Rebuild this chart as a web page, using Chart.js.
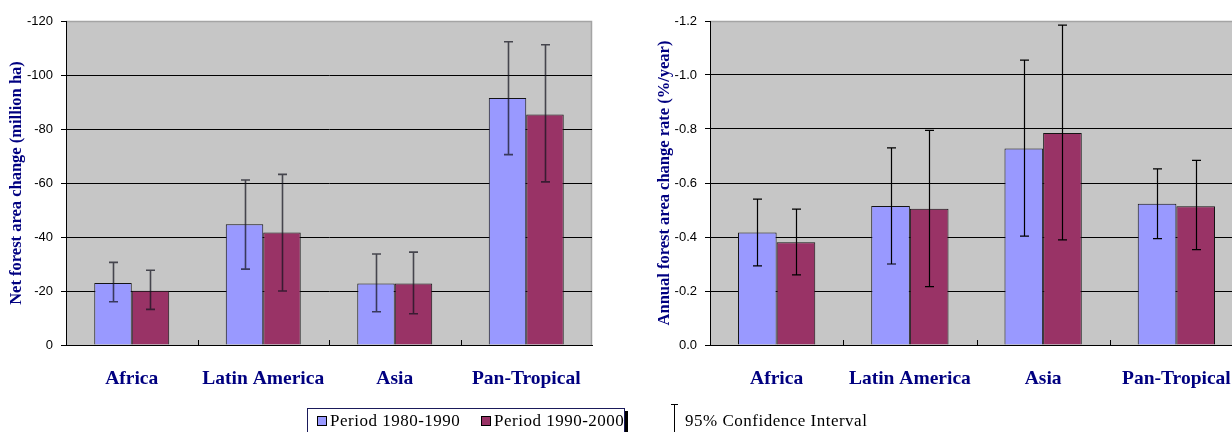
<!DOCTYPE html>
<html>
<head>
<meta charset="utf-8">
<script src="https://cdn.jsdelivr.net/npm/chart.js@4"></script>
<style>
  html, body { margin: 0; padding: 0; background: #fff; }
  #wrap { position: relative; width: 1232px; height: 432px; overflow: hidden; }
  #netChart { position: absolute; left: 0; top: 0; }
  #rateChart { position: absolute; left: 600px; top: 0; }
  .legend-box { position: absolute; left: 307px; top: 408px; width: 316px; height: 40px;
                border: 1px solid #1a1a5a; box-shadow: 3px 3px 0 #000; background: #fff; }
  .swatch { position: absolute; width: 8px; height: 8px; border: 1px solid #000; }
  .ltext { position: absolute; font: 17px "Liberation Serif", serif; color: #000;
           white-space: nowrap; line-height: 20px; letter-spacing: 0.5px; }
  .ci-stem { position: absolute; background: #000; }
</style>
</head>
<body>
<div id="wrap">
  <canvas id="netChart" width="600" height="432"></canvas>
  <canvas id="rateChart" width="652" height="432"></canvas>
  <div class="legend-box"></div>
  <div id="sw1" class="swatch" style="left:317px; top:416px;"></div>
  <div id="lt1" class="ltext" style="left:330px; top:411px;"></div>
  <div id="sw2" class="swatch" style="left:481px; top:416px;"></div>
  <div id="lt2" class="ltext" style="left:494px; top:411px;"></div>
  <div class="ci-stem" style="left:674px; top:404px; width:1px; height:40px;"></div>
  <div class="ci-stem" style="left:671px; top:404px; width:7px; height:1px;"></div>
  <div id="lt3" class="ltext" style="left:685px; top:411px;"></div>
</div>
<script>
// Regions and periods
const regions = ['Africa', 'Latin America', 'Asia', 'Pan-Tropical'];
const periodLabels = ['Period 1980-1990', 'Period 1990-2000'];
const ciLabel = '95% Confidence Interval';

// Net forest area change (million ha)
const netChange1980s = [-23, -44.7, -22.8, -91.5];
const netChange1990s = [-20.1, -41.7, -22.8, -85.4];
const netCiLow1980s  = [-16.0, -28.1, -12.3, -70.5];
const netCiHigh1980s = [-30.6, -61.1, -33.7, -112.3];
const netCiLow1990s  = [-13.2, -20.0, -11.6, -60.4];
const netCiHigh1990s = [-27.7, -63.2, -34.4, -111.2];

// Annual forest area change rate (%/year)
const rate1980s = [-0.417, -0.515, -0.728, -0.523];
const rate1990s = [-0.381, -0.505, -0.785, -0.514];
const rateCiLow1980s  = [-0.293, -0.300, -0.403, -0.394];
const rateCiHigh1980s = [-0.540, -0.730, -1.055, -0.652];
const rateCiLow1990s  = [-0.260, -0.216, -0.389, -0.353];
const rateCiHigh1990s = [-0.503, -0.795, -1.185, -0.684];

// Value-axis ranges and tick steps
const netAxis = { min: -120, max: 0, step: 20, title: 'Net forest area change (million ha)' };
const rateAxis = { min: -1.2, max: 0, step: 0.2, title: 'Annual forest area change rate (%/year)' };

const colorEarly = '#9999FF';
const colorLate = '#993366';

// Plot background, frame, confidence-interval whiskers and category separators
const plotDecor = {
  id: 'plotDecor',
  beforeDraw(chart) {
    const { ctx, chartArea: a } = chart;
    ctx.save();
    ctx.fillStyle = '#C6C6C6';
    ctx.fillRect(a.left, a.top, a.right - a.left, a.bottom - a.top);
    ctx.strokeStyle = '#a4a4a4';
    ctx.lineWidth = 1.5;
    ctx.beginPath();
    ctx.moveTo(a.left, a.top + 0.5);
    ctx.lineTo(a.right - 0.5, a.top + 0.5);
    ctx.lineTo(a.right - 0.5, a.bottom);
    ctx.stroke();
    ctx.restore();
  },
  afterDatasetsDraw(chart, args, opts) {
    const { ctx } = chart;
    const yScale = chart.scales.y;
    ctx.save();
    ctx.strokeStyle = opts.color;
    ctx.lineWidth = opts.width;
    chart.data.datasets.forEach((ds, i) => {
      const meta = chart.getDatasetMeta(i);
      meta.data.forEach((bar, j) => {
        const x = Math.round(bar.x) + 0.5;
        const yLo = yScale.getPixelForValue(ds.ciLow[j]);
        const yHi = yScale.getPixelForValue(ds.ciHigh[j]);
        const cap = 4.5;
        ctx.beginPath();
        ctx.moveTo(x, yLo); ctx.lineTo(x, yHi);
        ctx.moveTo(x - cap, yLo); ctx.lineTo(x + cap, yLo);
        ctx.moveTo(x - cap, yHi); ctx.lineTo(x + cap, yHi);
        ctx.stroke();
      });
    });
    ctx.restore();
  },
  afterDraw(chart) {
    const { ctx, chartArea: a } = chart;
    const xScale = chart.scales.x;
    ctx.save();
    ctx.strokeStyle = '#000';
    ctx.lineWidth = 1;
    for (let i = 1; i < regions.length; i++) {
      const x = Math.round((xScale.getPixelForTick(i - 1) + xScale.getPixelForTick(i)) / 2) + 0.5;
      ctx.beginPath();
      ctx.moveTo(x, a.bottom);
      ctx.lineTo(x, a.bottom - 5);
      ctx.stroke();
    }
    ctx.restore();
  }
};

function makeChart(canvasId, series, axis, cfg) {
  const fmt = v => {
    if (Math.abs(v) < 1e-9) return cfg.decimals ? (0).toFixed(cfg.decimals) : '0';
    return cfg.decimals ? v.toFixed(cfg.decimals) : String(Math.round(v));
  };
  return new Chart(document.getElementById(canvasId), {
    type: 'bar',
    data: {
      labels: regions,
      datasets: series.map(s => ({
        label: s.label,
        data: s.data,
        ciLow: s.lo,
        ciHigh: s.hi,
        backgroundColor: s.color,
        borderColor: '#141414',
        borderWidth: 1,
        categoryPercentage: cfg.catPct,
        barPercentage: 1
      }))
    },
    options: {
      responsive: false,
      animation: false,
      layout: { padding: cfg.padding },
      plugins: {
        legend: { display: false },
        tooltip: { enabled: false },
        plotDecor: { color: cfg.ciColor, width: cfg.ciWidth }
      },
      scales: {
        x: {
          grid: { display: false },
          border: { display: true, color: '#000', width: 1 },
          ticks: {
            color: '#000080',
            font: { family: 'Liberation Serif', size: 19.5, weight: 'bold' },
            padding: 14, maxRotation: 0, autoSkip: false
          },
          afterFit: s => { s.height = 87; }
        },
        y: {
          reverse: true,
          min: axis.min,
          max: axis.max,
          ticks: {
            stepSize: axis.step,
            color: '#000',
            font: { family: 'Liberation Sans', size: 13 },
            padding: 8,
            callback: v => fmt(v)
          },
          grid: {
            color: c => (c.tick && Math.abs(c.tick.value - axis.min) < 1e-9) ? '#a4a4a4' : '#000',
            lineWidth: 1,
            drawTicks: true,
            tickLength: 5,
            tickColor: '#000'
          },
          border: { display: true, color: '#000', width: 1 },
          title: {
            display: true,
            text: axis.title,
            color: '#000080',
            font: { family: 'Liberation Serif', size: 16.5, weight: 'bold' },
            padding: { top: 7, bottom: 0 }
          },
          afterFit: s => { s.width = cfg.yWidth; }
        }
      }
    },
    plugins: [plotDecor]
  });
}

makeChart('netChart', [
  { label: periodLabels[0], data: netChange1980s, lo: netCiLow1980s, hi: netCiHigh1980s, color: colorEarly },
  { label: periodLabels[1], data: netChange1990s, lo: netCiLow1990s, hi: netCiHigh1990s, color: colorLate }
], netAxis, {
  decimals: 0, catPct: 0.57, yWidth: 66,
  padding: { left: 0, right: 8, top: 21, bottom: 0 },
  ciColor: 'rgba(20,20,30,0.72)', ciWidth: 1.6
});

makeChart('rateChart', [
  { label: periodLabels[0], data: rate1980s, lo: rateCiLow1980s, hi: rateCiHigh1980s, color: colorEarly },
  { label: periodLabels[1], data: rate1990s, lo: rateCiLow1990s, hi: rateCiHigh1990s, color: colorLate }
], rateAxis, {
  decimals: 1, catPct: 0.58, yWidth: 62,
  padding: { left: 48, right: 9, top: 21, bottom: 0 },
  ciColor: '#000', ciWidth: 1.2
});

// Legend text and swatches
document.getElementById('sw1').style.background = colorEarly;
document.getElementById('sw2').style.background = colorLate;
document.getElementById('lt1').textContent = periodLabels[0];
document.getElementById('lt2').textContent = periodLabels[1];
document.getElementById('lt3').textContent = ciLabel;
</script>
</body>
</html>
